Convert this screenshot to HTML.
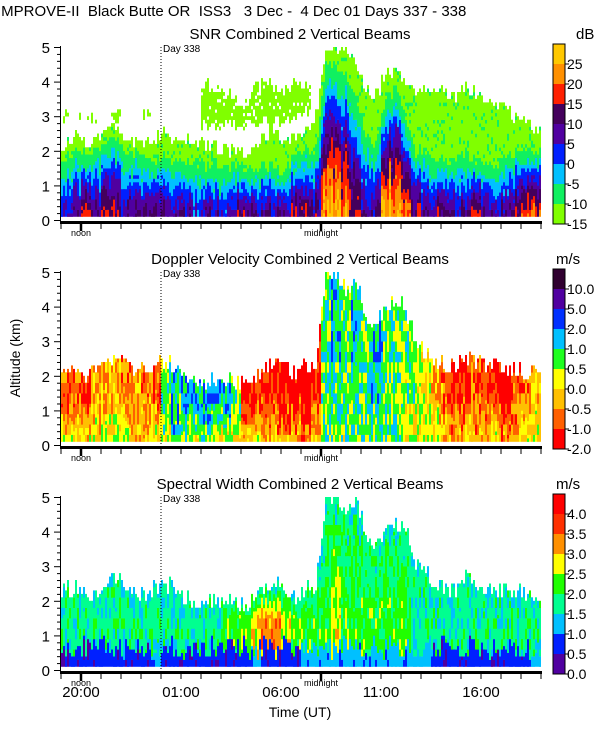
<!DOCTYPE html>
<html><head><meta charset="utf-8">
<style>
body{margin:0;background:#fff;}
svg{display:block;font-family:"Liberation Sans","DejaVu Sans",sans-serif;}
text{white-space:pre;}
</style></head>
<body>
<svg id="chart" width="600" height="750" viewBox="0 0 600 750" xmlns="http://www.w3.org/2000/svg" xml:space="preserve">
<text x="-3" y="16" font-size="15">IMPROVE-II  Black Butte OR  ISS3   3 Dec -  4 Dec 01 Days 337 - 338</text>
<text transform="translate(20,358) rotate(-90)" text-anchor="middle" font-size="14">Altitude (km)</text>
<text x="300" y="717" text-anchor="middle" font-size="14">Time (UT)</text>
<g id="panels"></g>
</svg>
<script>
// ---- data (per half-hour column, 19:00 UT -> 19:00 UT) ----
const timeLabels = ["20:00","01:00","06:00","11:00","16:00"];
const timeLabelHours = [1,6,11,16,21];
const altTicks = [0,1,2,3,4,5];
const snrTicks = ["-15","-10","-5","0","5","10","15","20","25"];
const velTicks = ["-2.0","-1.0","-0.5","0.0","0.5","1.0","2.0","5.0","10.0"];
const widTicks = ["0.0","0.5","1.0","1.5","2.0","2.5","3.0","3.5","4.0"];
const snrColors = ["#80ff00","#10f060","#00c0ff","#0020ff","#5000a0","#44005c","#ff2000","#ff9000","#ffc800"];
const velColors = ["#ff0000","#ff6000","#ffc000","#ffff00","#20ff20","#00c0ff","#0030ff","#5000a0","#300030"];
const widColors = ["#5000a0","#0020ff","#00c0ff","#00ff90","#20ff00","#ffff00","#ff9000","#ff3000","#ff0000"];
const snrTop = [2.2,2.5,2.2,2.3,2.6,2.6,2.5,2.2,2.3,2.4,2.5,2.4,2.3,2.3,2.2,2.1,2.0,2.0,2.0,2.2,2.5,2.6,2.2,2.5,2.6,3.0,5.0,4.9,5.0,4.5,3.8,3.6,4.2,4.3,4.0,3.8,3.7,3.8,3.7,3.6,3.8,3.7,3.5,3.4,3.2,3.0,2.8,2.6];
const snrCoreTop = [1.8,2.0,1.9,2.0,2.2,2.3,2.1,1.9,1.8,1.8,1.8,1.8,1.7,1.7,1.6,1.6,1.5,1.6,1.6,1.5,1.6,1.5,1.4,2.0,2.1,2.0,4.6,4.4,4.2,3.5,2.5,2.2,3.5,3.8,3.0,2.0,1.9,1.8,1.7,1.8,1.9,1.7,1.7,1.6,1.8,2.0,2.0,2.0];
const snrSurface = [5,5,6,5,6,6,5,5,5,5,5,5,5,4,5,4,4,5,5,5,5,5,5,6,6,5,8,8,7,6,5,5,8,8,7,6,5,5,5,5,5,6,5,5,5,6,7,7];
const cirrusLo = [2.8,2.8,2.9,2.8,2.9,2.8,2.9,2.8,2.8,2.9,2.8,0,0,0,2.6,2.6,2.7,2.6,2.6,2.6,2.7,2.7,2.7,2.8,2.9,0,0,0,0,0,0,0,0,0,0,0,0,0,0,0,0,0,0,0,0,0,0,0];
const cirrusHi = [3.2,3.1,3.2,3.2,3.1,3.2,3.2,3.1,3.2,3.2,3.0,0,0,0,4.1,4.0,3.8,3.6,3.5,4.0,4.2,4.1,4.0,4.2,4.1,0,0,0,0,0,0,0,0,0,0,0,0,0,0,0,0,0,0,0,0,0,0,0];
const echoTop = [2.2,2.3,2.0,2.1,2.5,2.5,2.4,2.2,2.1,2.3,2.4,2.2,2.0,1.9,1.8,1.9,1.9,1.8,1.8,2.0,2.2,2.4,2.3,2.0,2.3,2.3,4.9,5.0,4.5,4.9,3.8,3.5,4.0,4.2,3.9,3.0,2.7,2.4,2.3,2.2,2.6,2.4,2.3,2.3,2.2,2.2,2.1,2.0];
const velLow = [3,3,3,3,3,3,3,2,3,3,3,4,3,3,4,3,3,3,3,3,2,2,2,2,1,2,4,4,4,4,4,4,4,4,3,3,3,3,2,2,2,2,2,3,2,2,3,3];
const velHigh = [1,1,0,2,2,2,1,2,1,1,4,5,5,5,5,5,5,4,0,0,0,0,0,0,0,0,4,5,4,5,4,5,4,4,4,4,3,2,1,0,0,1,0,0,0,1,1,2];
const widLow = [1,1,1,1,1,1,1,1,1,2,1,1,1,1,1,1,1,1,1,2,1,1,1,1,2,2,2,2,2,2,2,2,2,2,2,2,2,1,1,1,1,1,1,1,1,1,1,2];
const widMid = [3,3,3,3,3,3,3,3,3,3,3,3,3,3,3,3,4,4,4,5,6,6,5,4,4,4,4,5,4,4,4,4,4,4,4,3,3,3,3,3,3,3,3,3,3,3,3,3];

const NS="http://www.w3.org/2000/svg";
const X0=61, X1=541, PXH=20;
function xScale(h){return X0+h*PXH;}
function interp(arr,t){const i=Math.max(0,Math.min(arr.length-1,Math.floor(t)));const j=Math.min(arr.length-1,i+1);const f=Math.max(0,Math.min(1,t-i));return arr[i]*(1-f)+arr[j]*f;}
function nearest(arr,t){return arr[Math.max(0,Math.min(arr.length-1,Math.round(t)))];}
// deterministic texture (styling only)
function tex(a,b){let n=(Math.imul(a,374761393)+Math.imul(b,668265263))|0;n=Math.imul(n^(n>>>13),1274126177);n=n^(n>>>16);return ((n>>>0)%1000)/1000;}
const panelsG=document.getElementById('panels');
function el(tag,attrs,parent){const e=document.createElementNS(NS,tag);for(const k in attrs)e.setAttribute(k,attrs[k]);(parent||panelsG).appendChild(e);return e;}

function cellSNR(t,h,k,r){
  const jt=(tex(k,1)-0.5)*0.4;
  const top=interp(snrTop,t)+jt, core=interp(snrCoreTop,t)+jt*0.8;
  const lo=nearest(cirrusLo,t), hi=nearest(cirrusHi,t);
  if(lo>0 && h>=lo+tex(k,2)*0.3 && h<=hi-tex(k,3)*0.4) return tex(k,r+50)<0.12?-1:0;
  if(h>top) return -1;
  if(h>core) return tex(k,r)<0.12?1:0;
  const s=nearest(snrSurface,t)-(tex(k,4)<0.5?1:0)+(tex(k,5)<0.12?1:0);
  let v=s*(1-Math.pow(h/core,1.4));
  v+=(tex(k,Math.floor(r/3)+100)-0.5)*1.2;
  return Math.max(1,Math.min(8,Math.round(v)));
}
function cellVel(t,h,k,r){
  const top=interp(echoTop,t)+(tex(k,7)-0.5)*0.5;
  if(h>top) return -1;
  const lo=nearest(velLow,t), hi=nearest(velHigh,t);
  let v=lo+(hi-lo)*Math.min(1,h/Math.max(0.5,top*0.7));
  v+=(tex(k,Math.floor(r/3)+200)-0.5)*2.4+(tex(k,8)-0.5)*0.8;
  return Math.max(0,Math.min(6,Math.round(v)));
}
function cellWid(t,h,k,r){
  const top=interp(echoTop,t)+(tex(k,9)-0.5)*0.5+0.1;
  if(h>top) return -1;
  const lo=nearest(widLow,t), mid=nearest(widMid,t);
  const lowH=0.3+tex(k,10)*0.7;
  let v;
  if(h<lowH) v=lo-(tex(k,11)<0.5?0:0.3); else v=mid-(mid-2.8)*Math.max(0,(h-1.5)/Math.max(0.5,top-1.5));
  v+=(tex(k,Math.floor(r/3)+300)-0.5)*(h<lowH?0.8:1.6);
  return Math.max(0,Math.min(8,Math.round(v)));
}

function drawPanel(name,title,unit,yBase,colors,ticks,cellFn){
  const g=el('g',{});
  
  
  const yS=h=>yBase-h*34.6;
  const t=el('text',{x:300,y:yBase-181,'text-anchor':'middle','font-size':'15'},g);
  t.textContent=title;
  
  
  const hm=el('g',{},g);
  
  
  const nSub=(X1-X0)/2;
  for(let k=0;k<nSub;k++){
    const tt=(k*2+1)/10-0.5;
    let runC=null,runStart=0;
    const flush=(end)=>{
      if(runC!==null&&runC>=0){
        const rc=el('rect',{x:X0+k*2,y:yS(end).toFixed(1),width:2,height:(yS(runStart)-yS(end)+0.3).toFixed(1),fill:colors[runC]},hm);
        
        
      }
    };
    for(let r=1;r<50;r++){
      const h=r*0.1;
      const c=cellFn(tt,h+0.05,k,r);
      if(c!==runC){flush(h);runC=c;runStart=h;}
    }
    flush(5.0);
  }
  el('line',{x1:xScale(5),x2:xScale(5),y1:yS(5),y2:yBase+1,stroke:'#000','stroke-dasharray':'1,2','stroke-width':1},g);
  const d=el('text',{x:xScale(5)+2,y:yS(5)+5,'font-size':'10'},g);
  d.textContent='Day 338';
  
  
  el('line',{x1:60.5,x2:60.5,y1:yS(5)-1,y2:yBase+4,stroke:'#000'},g);
  for(let i=0;i<=25;i++){
    const y=yS(i*0.2)+0.5; const major=i%5===0;
    el('line',{x1:major?54:57,x2:60,y1:y,y2:y,stroke:'#000'},g);
  }
  altTicks.forEach(a=>{
    const tx=el('text',{x:50,y:yS(a)+6,'text-anchor':'end','font-size':'15'},g);
    tx.textContent=a;
    
    
  });
  el('rect',{x:60,y:yBase+1,width:482,height:3,fill:'#000'},g);
  for(let hh=0;hh<=24;hh++){
    const x=xScale(hh);
    const major=(hh===1||hh===13);
    el('line',{x1:x,x2:x,y1:yBase+4,y2:yBase+(major?11:9),stroke:'#000','stroke-width':major?2.5:1},g);
  }
  const n1=el('text',{x:xScale(1),y:yBase+16,'text-anchor':'middle','font-size':'9'},g);
  n1.textContent='noon';
  
  
  const n2=el('text',{x:xScale(13),y:yBase+16,'text-anchor':'middle','font-size':'9'},g);
  n2.textContent='midnight';
  
  
  const cb=el('g',{},g);
  
  
  const cbTop=yBase-176, bh=20;
  colors.forEach((c,i)=>{
    const y=cbTop+(8-i)*bh;
    el('rect',{x:553,y:y,width:12,height:bh,fill:c},cb);
    el('line',{x1:565,x2:569,y1:y+bh,y2:y+bh,stroke:'#000'},cb);
    const lt=el('text',{x:567,y:y+bh+5,'font-size':'14'},cb);
    lt.textContent=ticks[i];
    
    
  });
  el('rect',{x:553,y:cbTop,width:12,height:9*bh,fill:'none',stroke:'#000'},cb);
  const u=el('text',{x:unit==='dB'?576:556,y:cbTop-5,'font-size':'15'},cb);
  u.textContent=unit;
  
  
}
drawPanel('snr','SNR Combined 2 Vertical Beams','dB',220,snrColors,snrTicks,cellSNR);
drawPanel('velocity','Doppler Velocity Combined 2 Vertical Beams','m/s',445,velColors,velTicks,cellVel);
drawPanel('width','Spectral Width Combined 2 Vertical Beams','m/s',670,widColors,widTicks,cellWid);
timeLabels.forEach((lab,i)=>{
  const tx=el('text',{x:xScale(timeLabelHours[i]),y:697,'text-anchor':'middle','font-size':'15'});
  tx.textContent=lab;
  
  
});
</script>
</body></html>
